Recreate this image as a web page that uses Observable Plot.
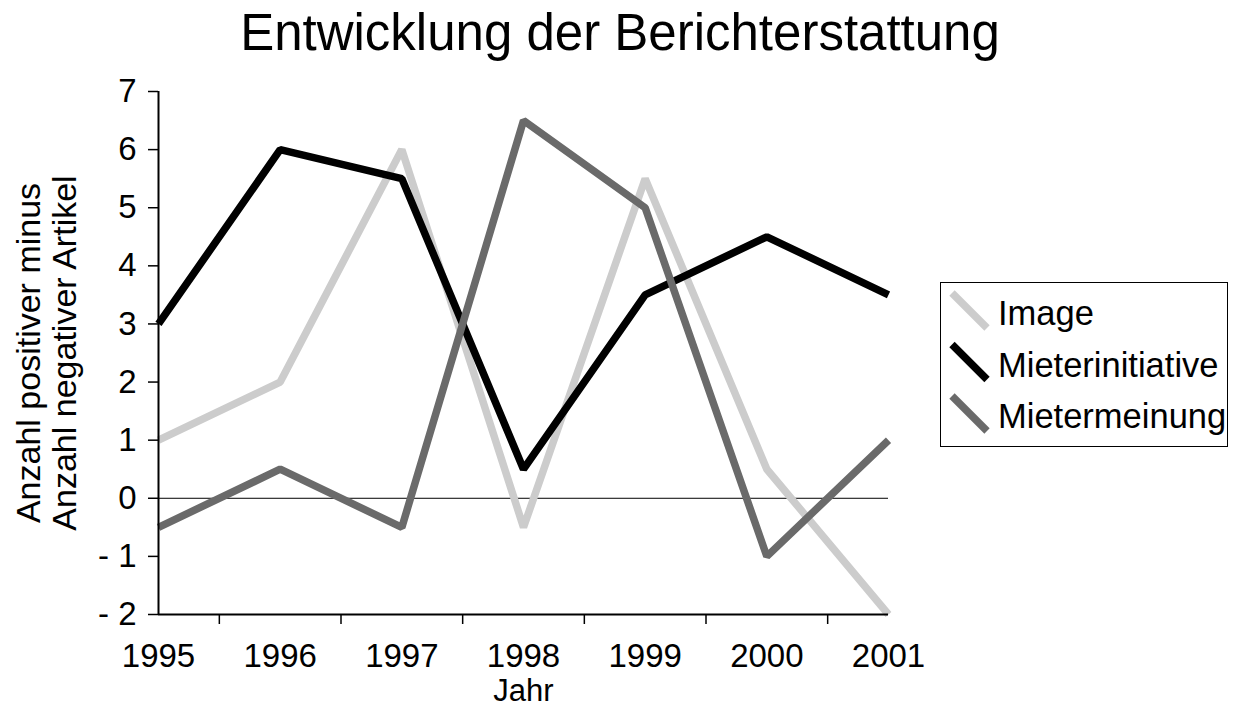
<!DOCTYPE html>
<html>
<head>
<meta charset="utf-8">
<script src="https://cdn.jsdelivr.net/npm/d3@7"></script>
<script src="https://cdn.jsdelivr.net/npm/@observablehq/plot@0.6"></script>
<style>
  html, body { margin: 0; padding: 0; background: white; }
  #wrap { position: relative; width: 1238px; height: 722px; overflow: hidden; font-family: "Liberation Sans", Arial, sans-serif; }
  #title { height: 66px; line-height: 66px; font-size: 51px; text-align: center; color: black; white-space: nowrap; padding-left: 2px; }
  #legend { position: absolute; left: 940px; top: 282px; width: 286px; height: 163px; border: 1px solid black; background: white; overflow: hidden; }
</style>
</head>
<body>
<div id="wrap">
  <div id="title"></div>
  <div id="chart"></div>
  <div id="legend"></div>
</div>
<script>
const titleText = "Entwicklung der Berichterstattung";
const xLabel = "Jahr";
const yLabel = "Anzahl positiver minus\nAnzahl negativer Artikel";

const years = [1995, 1996, 1997, 1998, 1999, 2000, 2001];
const seriesNames = ["Image", "Mieterinitiative", "Mietermeinung"];
const seriesColors = ["#cccccc", "#000000", "#6a6a6a"];
const imageValues = [1, 2, 6, -0.5, 5.5, 0.5, -2];
const mieterinitiativeValues = [3, 6, 5.5, 0.5, 3.5, 4.5, 3.5];
const mietermeinungValues = [-0.5, 0.5, -0.5, 6.5, 5, -1, 1];
const yTicks = [-2, -1, 0, 1, 2, 3, 4, 5, 6, 7];

const seriesValues = [imageValues, mieterinitiativeValues, mietermeinungValues];
const rows = seriesNames.flatMap((name, i) =>
  years.map((year, j) => ({ series: name, year, value: seriesValues[i][j] }))
);
const midTicks = d3.pairs(years).map(([a, b]) => (a + b) / 2);
const yDomain = [yTicks[0], yTicks[yTicks.length - 1]];
const fmtY = d => d < 0 ? "- " + Math.abs(d) : String(d);

document.getElementById("title").textContent = titleText;

const chart = Plot.plot({
  width: 1238,
  height: 656,
  marginTop: 25,
  marginBottom: 108,
  marginLeft: 158,
  marginRight: 350,
  x: { domain: [years[0], years[years.length - 1]] },
  y: { domain: yDomain },
  color: { domain: seriesNames, range: seriesColors },
  style: { fontFamily: "'Liberation Sans', Arial, sans-serif", fontSize: "33px", color: "black", background: "white", overflow: "visible" },
  marks: [
    Plot.ruleY([0], { stroke: "black", strokeWidth: 1 }),
    Plot.line(rows, { x: "year", y: "value", z: "series", stroke: "series", strokeWidth: 7.5, strokeLinecap: "butt", strokeLinejoin: "miter" }),
    Plot.ruleX([years[0]], { stroke: "black", strokeWidth: 2 }),
    Plot.ruleY([yDomain[0]], { stroke: "black", strokeWidth: 2 }),
    Plot.axisY({ ticks: yTicks, tickSize: 10, tickPadding: 12, tickFormat: fmtY, label: null, fontSize: 33, strokeWidth: 1.5 }),
    Plot.axisX({ ticks: years, tickSize: 0, tickPadding: 29, tickFormat: d => String(d), label: null, fontSize: 33 }),
    Plot.axisX({ ticks: midTicks, tickSize: 10, tickFormat: () => "", label: null, strokeWidth: 1.5 }),
    Plot.text([xLabel], { frameAnchor: "bottom", lineAnchor: "top", dy: 64, fontSize: 31, text: d => d }),
    Plot.text([yLabel], { frameAnchor: "left", dx: -112, rotate: -90, textAnchor: "middle", lineAnchor: "middle", lineHeight: 1.06, fontSize: 34, text: d => d })
  ]
});
document.getElementById("chart").appendChild(chart);

// Legend
const legend = d3.select("#legend").append("svg")
  .attr("width", 286).attr("height", 163)
  .style("display", "block")
  .style("font-family", "'Liberation Sans', Arial, sans-serif");
seriesNames.forEach((name, i) => {
  const oy = i * 51.5;
  legend.append("line")
    .attr("x1", 11).attr("y1", 10 + oy).attr("x2", 46).attr("y2", 45 + oy)
    .attr("stroke", seriesColors[i]).attr("stroke-width", 7.5).attr("stroke-linecap", "butt");
  legend.append("text")
    .attr("x", 57).attr("y", 42 + oy)
    .attr("font-size", 34.5).attr("fill", "black")
    .text(name);
});
</script>
</body>
</html>
